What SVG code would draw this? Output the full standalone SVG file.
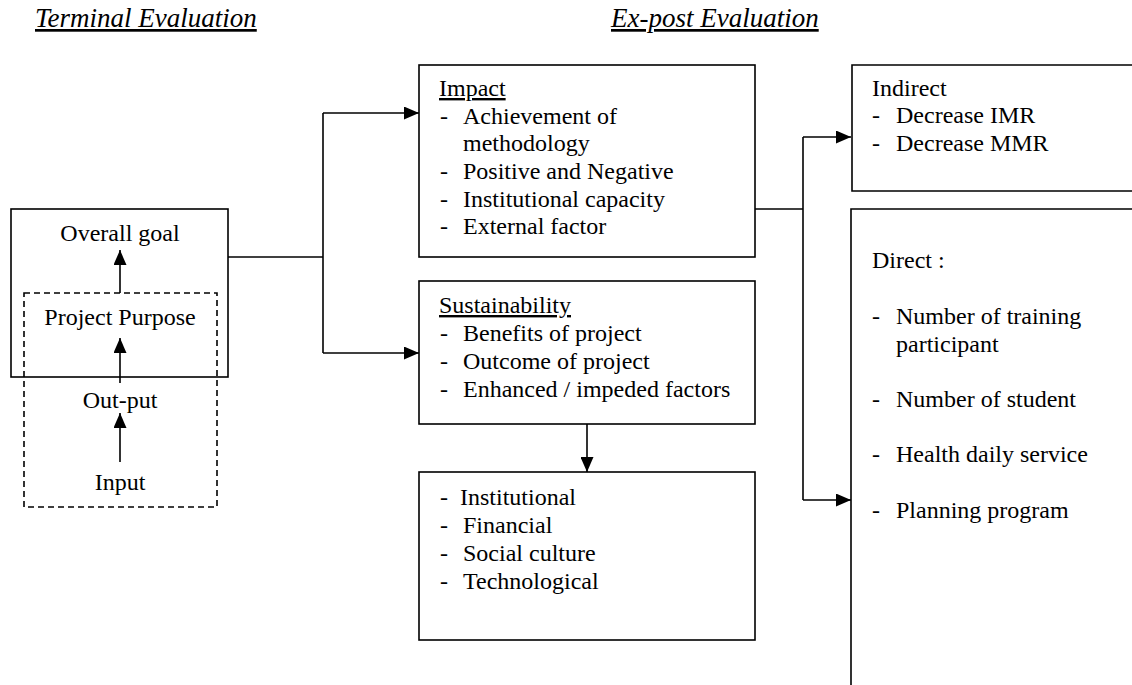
<svg xmlns="http://www.w3.org/2000/svg" width="1132" height="685" viewBox="0 0 1132 685" font-family="'Liberation Serif', 'DejaVu Serif', serif">
<defs>
<style>
text{font-family:'Liberation Serif','DejaVu Serif',serif;font-size:24px;fill:#000}
.t{font-size:27px;font-style:italic;text-decoration:underline}
.u{text-decoration:underline}
.c{text-anchor:middle}
.box{fill:#fff;stroke:#000;stroke-width:1.6}
.open{fill:none;stroke:#000;stroke-width:1.6}
.dash{fill:none;stroke:#000;stroke-width:1.6;stroke-dasharray:6 4}
.ln{fill:none;stroke:#000;stroke-width:1.6}
</style>
<marker id="ah" markerUnits="userSpaceOnUse" markerWidth="15" markerHeight="13" refX="15" refY="6.5" orient="auto">
<path d="M0,0 L15,6.5 L0,13 Z" fill="#000"/>
</marker>
</defs>
<rect width="1132" height="685" fill="#fff"/>
<g id="titles">
<text class="t" x="35" y="27">Terminal Evaluation</text>
<text class="t" x="611" y="27">Ex-post Evaluation</text>
</g>
<g id="connectors">
<path class="ln" d="M228,257 H323"/>
<path class="ln" d="M323,113 V353"/>
<path class="ln" d="M323,113 H419" marker-end="url(#ah)"/>
<path class="ln" d="M323,353 H419" marker-end="url(#ah)"/>
<path class="ln" d="M755,209 H803"/>
<path class="ln" d="M803,137 V500"/>
<path class="ln" d="M803,137 H851" marker-end="url(#ah)"/>
<path class="ln" d="M803,500 H851" marker-end="url(#ah)"/>
<path class="ln" d="M587,424 V472" marker-end="url(#ah)"/>
</g>
<g id="terminal">
<rect class="open" x="11" y="209" width="217" height="168"/>
<rect class="dash" x="24" y="293" width="193" height="214"/>
<text class="c" x="120" y="241">Overall goal</text>
<text class="c" x="120" y="325">Project Purpose</text>
<text class="c" x="120" y="408">Out-put</text>
<text class="c" x="120" y="490">Input</text>
<path class="ln" d="M120,293 V250" marker-end="url(#ah)"/>
<path class="ln" d="M120,383 V338" marker-end="url(#ah)"/>
<path class="ln" d="M120,462 V413" marker-end="url(#ah)"/>
</g>
<g id="impact">
<rect class="box" x="419" y="65" width="336" height="192"/>
<text class="u" x="439" y="96">Impact</text>
<text x="440" y="124">-</text><text x="463" y="124">Achievement of</text>
<text x="463" y="151">methodology</text>
<text x="440" y="179">-</text><text x="463" y="179">Positive and Negative</text>
<text x="440" y="207">-</text><text x="463" y="207">Institutional capacity</text>
<text x="440" y="234">-</text><text x="463" y="234">External factor</text>
</g>
<g id="sustainability">
<rect class="box" x="419" y="281" width="336" height="143"/>
<text class="u" x="439" y="313">Sustainability</text>
<text x="440" y="341">-</text><text x="463" y="341">Benefits of project</text>
<text x="440" y="369">-</text><text x="463" y="369">Outcome of project</text>
<text x="440" y="397">-</text><text x="463" y="397">Enhanced / impeded factors</text>
</g>
<g id="factors">
<rect class="box" x="419" y="472" width="336" height="168"/>
<text x="440" y="505">-</text><text x="460" y="505">Institutional</text>
<text x="440" y="533">-</text><text x="463" y="533">Financial</text>
<text x="440" y="561">-</text><text x="463" y="561">Social culture</text>
<text x="440" y="589">-</text><text x="463" y="589">Technological</text>
</g>
<g id="indirect">
<path class="open" d="M1133,65 H852 V191 H1133"/>
<text x="872" y="96">Indirect</text>
<text x="872" y="123">-</text><text x="896" y="123">Decrease IMR</text>
<text x="872" y="151">-</text><text x="896" y="151">Decrease MMR</text>
</g>
<g id="direct">
<path class="open" d="M1133,209 H851 V686"/>
<text x="872" y="268">Direct :</text>
<text x="872" y="324">-</text><text x="896" y="324">Number of training</text>
<text x="896" y="352">participant</text>
<text x="872" y="407">-</text><text x="896" y="407">Number of student</text>
<text x="872" y="462">-</text><text x="896" y="462">Health daily service</text>
<text x="872" y="518">-</text><text x="896" y="518">Planning program</text>
</g>
</svg>
